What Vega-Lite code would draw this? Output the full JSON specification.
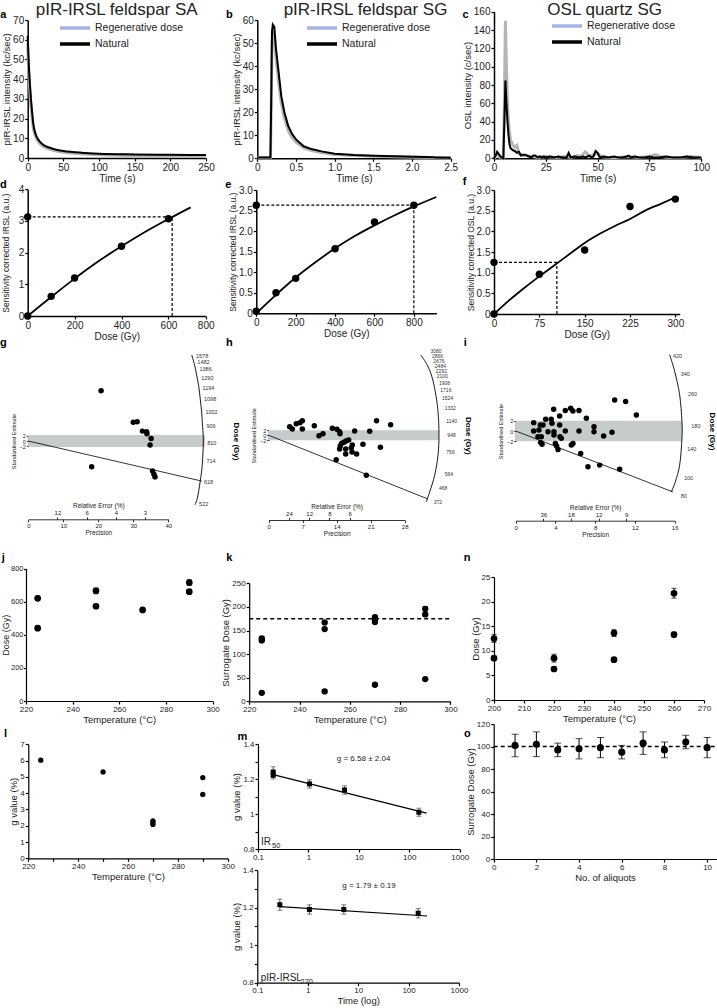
{
"$schema": "https://vega.github.io/schema/vega-lite/v6.json",
"width": 717, "height": 1008, "autosize": {"type": "none"}, "padding": 0, "background": "white",
"config": {
 "font": "Liberation Sans",
 "view": {"stroke": null},
 "axis": {"grid": false, "domainColor": "#000", "domainWidth": 1.5, "tickColor": "#000", "tickWidth": 1.2, "tickSize": 3, "labelColor": "#222", "labelFontSize": 10, "titleColor": "#222", "titleFontSize": 10.5, "titleFontWeight": "normal", "labelFlush": false, "labelOverlap": false, "minExtent": 0, "labelPadding": 1, "titlePadding": 1},
 "axisX": {"minExtent": 0}, "axisY": {"minExtent": 0},
 "text": {"color": "#222"}
},
"resolve": {"scale": {"x": "independent", "y": "independent", "color": "independent"}, "axis": {"x": "independent", "y": "independent"}},
"layer": [
 {"layer": [
  {"data": {"values": [{"x":0,"y":58},{"x":1,"y":48},{"x":2,"y":40},{"x":3,"y":34},{"x":4,"y":29},{"x":5,"y":25},{"x":6,"y":21},{"x":8,"y":15},{"x":10,"y":12},{"x":12,"y":10},{"x":15,"y":8.2},{"x":17,"y":7.3},{"x":20,"y":6.3},{"x":25,"y":5.2},{"x":30,"y":4.5},{"x":40,"y":3.5},{"x":50,"y":2.9},{"x":75,"y":2.1},{"x":100,"y":1.6},{"x":150,"y":1.2},{"x":200,"y":1.0},{"x":250,"y":0.9}]},
   "mark": {"type": "line", "color": "#b5b5b5", "strokeWidth": 3, "interpolate": "monotone"},
   "encoding": {
    "x": {"field": "x", "type": "quantitative", "scale": {"domain": [0, 250], "range": [27.7, 206], "nice": false, "zero": false}, "axis": null},
    "y": {"field": "y", "type": "quantitative", "scale": {"domain": [0, 70], "range": [158, 20], "nice": false, "zero": false}, "axis": null}}},
  {"data": {"values": [{"x":0,"y":62},{"x":1,"y":52},{"x":2,"y":44},{"x":3,"y":38},{"x":4,"y":33},{"x":5,"y":28},{"x":6,"y":24},{"x":8,"y":17},{"x":10,"y":13.5},{"x":12,"y":11.2},{"x":15,"y":9.3},{"x":17,"y":8.3},{"x":20,"y":7.2},{"x":25,"y":6},{"x":30,"y":5.3},{"x":40,"y":4.2},{"x":50,"y":3.6},{"x":75,"y":2.7},{"x":100,"y":2.2},{"x":150,"y":1.8},{"x":200,"y":1.6},{"x":250,"y":1.5}]},
   "mark": {"type": "line", "color": "#000", "strokeWidth": 2, "interpolate": "monotone"},
   "encoding": {"x": {"field": "x", "type": "quantitative", "axis": null}, "y": {"field": "y", "type": "quantitative", "axis": null}}},
  {"data": {"values": [{}]}, "mark": {"type": "text", "fontSize": 17},
   "encoding": {"x": {"datum": 124.8, "axis": null}, "y": {"datum": 75.1, "axis": null}, "text": {"value": "pIR-IRSL feldspar SA"}}},
  {"data": {"values": [{}]}, "mark": {"type": "text", "fontSize": 11, "fontWeight": "bold", "color": "#000"},
   "encoding": {"x": {"datum": -34.2, "axis": null}, "y": {"datum": 72.5, "axis": null}, "text": {"value": "a"}}}
 ]},
 {"data": {"values": [{}]}, "mark": {"type": "point", "opacity": 0},
  "encoding": {
   "x": {"datum": 0, "type": "quantitative", "scale": {"domain": [0, 250], "range": [27.7, 206], "nice": false, "zero": false}, "axis": {"orient": "bottom", "offset": -850, "values": [0,50,100,150,200,250], "title": "Time (s)", "titleFontSize": 10}},
   "y": {"datum": 0, "type": "quantitative", "scale": {"domain": [0, 70], "range": [158, 20], "nice": false, "zero": false}, "axis": {"orient": "left", "offset": -27.7, "values": [0,10,20,30,40,50,60,70], "title": "pIR-IRSL intensity (kc/sec)", "titleFontSize": 9.5}}}},
 {"data": {"values": [{"s":"Regenerative dose"},{"s":"Natural"}]}, "mark": {"type": "point", "opacity": 0},
  "encoding": {"color": {"field": "s", "type": "nominal", "scale": {"domain": ["Regenerative dose","Natural"], "range": ["#a3b3e6","#000000"]},
   "legend": {"orient": "none", "legendX": 68, "legendY": 21, "title": null, "symbolType": "M-3,0L3,0", "symbolSize": 100, "symbolStrokeWidth": 3.5, "labelFontSize": 10.5, "labelColor": "#222", "rowPadding": 2, "labelOffset": 13, "padding": 0}}}},
 {"layer": [
  {"data": {"values": [{"x":0,"y":0.4},{"x":0.17,"y":0.4},{"x":0.18,"y":22},{"x":0.19,"y":50},{"x":0.2,"y":55},{"x":0.22,"y":53},{"x":0.24,"y":44},{"x":0.27,"y":35},{"x":0.31,"y":24},{"x":0.35,"y":17.5},{"x":0.4,"y":12},{"x":0.45,"y":9},{"x":0.5,"y":7},{"x":0.6,"y":4.5},{"x":0.7,"y":3.4},{"x":0.83,"y":2.5},{"x":1.0,"y":1.7},{"x":1.25,"y":1.2},{"x":1.5,"y":0.9},{"x":1.9,"y":0.6},{"x":2.28,"y":0.4},{"x":2.3,"y":0.3},{"x":2.5,"y":0.2}]},
   "mark": {"type": "line", "color": "#b5b5b5", "strokeWidth": 3},
   "encoding": {
    "x": {"field": "x", "type": "quantitative", "scale": {"domain": [0, 2.5], "range": [257.3, 450.7], "nice": false, "zero": false}, "axis": null},
    "y": {"field": "y", "type": "quantitative", "scale": {"domain": [0, 60], "range": [158.3, 20], "nice": false, "zero": false}, "axis": null}}},
  {"data": {"values": [{"x":0,"y":0.4},{"x":0.17,"y":0.4},{"x":0.18,"y":25},{"x":0.19,"y":55},{"x":0.2,"y":58},{"x":0.22,"y":57},{"x":0.24,"y":48},{"x":0.27,"y":39},{"x":0.31,"y":27},{"x":0.35,"y":20},{"x":0.4,"y":14},{"x":0.45,"y":10.5},{"x":0.5,"y":8.2},{"x":0.6,"y":5.2},{"x":0.7,"y":4},{"x":0.83,"y":3},{"x":1.0,"y":2},{"x":1.25,"y":1.4},{"x":1.5,"y":1.1},{"x":1.9,"y":0.8},{"x":2.28,"y":0.5},{"x":2.3,"y":0.3},{"x":2.5,"y":0.2}]},
   "mark": {"type": "line", "color": "#000", "strokeWidth": 2},
   "encoding": {"x": {"field": "x", "type": "quantitative", "axis": null}, "y": {"field": "y", "type": "quantitative", "axis": null}}},
  {"data": {"values": [{}]}, "mark": {"type": "text", "fontSize": 17},
   "encoding": {"x": {"datum": 1.399, "axis": null}, "y": {"datum": 64.3, "axis": null}, "text": {"value": "pIR-IRSL feldspar SG"}}},
  {"data": {"values": [{}]}, "mark": {"type": "text", "fontSize": 11, "fontWeight": "bold", "color": "#000"},
   "encoding": {"x": {"datum": -0.362, "axis": null}, "y": {"datum": 62.2, "axis": null}, "text": {"value": "b"}}}
 ]},
 {"data": {"values": [{}]}, "mark": {"type": "point", "opacity": 0},
  "encoding": {
   "x": {"datum": 0, "type": "quantitative", "scale": {"domain": [0, 2.5], "range": [257.3, 450.7], "nice": false, "zero": false}, "axis": {"orient": "bottom", "offset": -849.7, "values": [0,0.5,1,1.5,2,2.5], "labelExpr": "datum.value == 0 ? '0' : format(datum.value, '.1f')", "title": "Time (s)", "titleFontSize": 10}},
   "y": {"datum": 0, "type": "quantitative", "scale": {"domain": [0, 60], "range": [158.3, 20], "nice": false, "zero": false}, "axis": {"orient": "left", "offset": -257.3, "values": [0,10,20,30,40,50,60], "title": "pIR-IRSL intensity (kc/sec)", "titleFontSize": 9.5}}}},
 {"data": {"values": [{"s":"Regenerative dose"},{"s":"Natural"}]}, "mark": {"type": "point", "opacity": 0},
  "encoding": {"color": {"field": "s", "type": "nominal", "scale": {"domain": ["Regenerative dose","Natural"], "range": ["#a3b3e6","#000000"]},
   "legend": {"orient": "none", "legendX": 315, "legendY": 21, "title": null, "symbolType": "M-3,0L3,0", "symbolSize": 100, "symbolStrokeWidth": 3.5, "labelFontSize": 10.5, "labelColor": "#222", "rowPadding": 2, "labelOffset": 13, "padding": 0}}}},
 {"layer": [
  {"data": {"values": [{"x":0,"y":0},{"x":1,"y":3},{"x":2,"y":4},{"x":3,"y":1},{"x":4.5,"y":0},{"x":5,"y":60},{"x":5.5,"y":150},{"x":6,"y":100},{"x":6.5,"y":60},{"x":7,"y":40},{"x":7.5,"y":28},{"x":8,"y":20},{"x":9,"y":15},{"x":10,"y":12},{"x":11,"y":14},{"x":12,"y":5},{"x":13,"y":4},{"x":14,"y":3},{"x":15,"y":3},{"x":17,"y":2},{"x":19,"y":2},{"x":21,"y":1},{"x":25,"y":2},{"x":30,"y":1},{"x":35,"y":2},{"x":37,"y":1},{"x":40,"y":3},{"x":42,"y":2},{"x":44,"y":7},{"x":45,"y":5},{"x":46,"y":2},{"x":48,"y":4},{"x":50,"y":5},{"x":52,"y":2},{"x":55,"y":1},{"x":60,"y":1},{"x":65,"y":2},{"x":70,"y":1},{"x":75,"y":2},{"x":78,"y":4},{"x":80,"y":2},{"x":85,"y":1},{"x":90,"y":1},{"x":95,"y":2},{"x":100,"y":1}]},
   "mark": {"type": "line", "color": "#b5b5b5", "strokeWidth": 3},
   "encoding": {
    "x": {"field": "x", "type": "quantitative", "scale": {"domain": [0, 100], "range": [494, 701.3], "nice": false, "zero": false}, "axis": null},
    "y": {"field": "y", "type": "quantitative", "scale": {"domain": [0, 160], "range": [158.3, 11.7], "nice": false, "zero": false}, "axis": null}}},
  {"data": {"values": [{"x":0,"y":0},{"x":1,"y":4},{"x":1.5,"y":7},{"x":2.5,"y":4},{"x":3.5,"y":1},{"x":4.5,"y":0},{"x":5,"y":40},{"x":5.5,"y":85},{"x":6,"y":60},{"x":6.5,"y":40},{"x":7,"y":25},{"x":7.5,"y":15},{"x":8,"y":11},{"x":9,"y":9},{"x":10,"y":8},{"x":11,"y":6},{"x":12,"y":7},{"x":13,"y":3},{"x":14,"y":4},{"x":15,"y":4},{"x":16,"y":3},{"x":17,"y":2},{"x":18,"y":1},{"x":19,"y":3},{"x":20,"y":3},{"x":21,"y":1},{"x":22,"y":2},{"x":23,"y":1},{"x":24,"y":2},{"x":25,"y":1},{"x":27,"y":2},{"x":29,"y":1},{"x":31,"y":2},{"x":33,"y":1},{"x":35,"y":1},{"x":36,"y":6},{"x":37,"y":1},{"x":39,"y":2},{"x":41,"y":1},{"x":43,"y":2},{"x":44,"y":1},{"x":45,"y":2},{"x":46,"y":3},{"x":47,"y":1},{"x":48,"y":2},{"x":49,"y":8},{"x":50,"y":6},{"x":51,"y":1},{"x":53,"y":2},{"x":55,"y":1},{"x":58,"y":2},{"x":60,"y":1},{"x":62,"y":1},{"x":64,"y":2},{"x":65,"y":3},{"x":66,"y":1},{"x":68,"y":2},{"x":70,"y":1},{"x":73,"y":1},{"x":75,"y":2},{"x":77,"y":1},{"x":80,"y":1},{"x":83,"y":2},{"x":86,"y":1},{"x":90,"y":1},{"x":93,"y":2},{"x":96,"y":1},{"x":100,"y":1}]},
   "mark": {"type": "line", "color": "#000", "strokeWidth": 2},
   "encoding": {"x": {"field": "x", "type": "quantitative", "axis": null}, "y": {"field": "y", "type": "quantitative", "axis": null}}},
  {"data": {"values": [{}]}, "mark": {"type": "text", "fontSize": 17},
   "encoding": {"x": {"datum": 53.4, "axis": null}, "y": {"datum": 161.8, "axis": null}, "text": {"value": "OSL quartz SG"}}},
  {"data": {"values": [{}]}, "mark": {"type": "text", "fontSize": 11, "fontWeight": "bold", "color": "#000"},
   "encoding": {"x": {"datum": -13.7, "axis": null}, "y": {"datum": 156.4, "axis": null}, "text": {"value": "c"}}}
 ]},
 {"data": {"values": [{}]}, "mark": {"type": "point", "opacity": 0},
  "encoding": {
   "x": {"datum": 0, "type": "quantitative", "scale": {"domain": [0, 100], "range": [494, 701.3], "nice": false, "zero": false}, "axis": {"orient": "bottom", "offset": -849.7, "values": [0,25,50,75,100], "title": "Time (s)", "titleFontSize": 10}},
   "y": {"datum": 0, "type": "quantitative", "scale": {"domain": [0, 160], "range": [158.3, 11.7], "nice": false, "zero": false}, "axis": {"orient": "left", "offset": -494, "values": [0,20,40,60,80,100,120,140,160], "title": "OSL intensity (c/sec)", "titleFontSize": 9.5}}}},
 {"data": {"values": [{"s":"Regenerative dose"},{"s":"Natural"}]}, "mark": {"type": "point", "opacity": 0},
  "encoding": {"color": {"field": "s", "type": "nominal", "scale": {"domain": ["Regenerative dose","Natural"], "range": ["#a3b3e6","#000000"]},
   "legend": {"orient": "none", "legendX": 560, "legendY": 19, "title": null, "symbolType": "M-3,0L3,0", "symbolSize": 100, "symbolStrokeWidth": 3.5, "labelFontSize": 10.5, "labelColor": "#222", "rowPadding": 2, "labelOffset": 13, "padding": 0}}}},
 {"layer": [
  {"data": {"values": [{}]}, "mark": {"type": "rule", "strokeDash": [3,2], "strokeWidth": 1.2, "color": "#000"},
   "encoding": {"x": {"datum": 0, "axis": null}, "x2": {"datum": 616}, "y": {"datum": 3.13, "axis": null}}},
  {"data": {"values": [{}]}, "mark": {"type": "rule", "strokeDash": [3,2], "strokeWidth": 1.2, "color": "#000"},
   "encoding": {"x": {"datum": 616, "axis": null}, "y": {"datum": 0, "axis": null}, "y2": {"datum": 3.13}}},
  {"data": {"values": [{"x":0,"y":0},{"x":100,"y":0.6},{"x":200,"y":1.18},{"x":300,"y":1.72},{"x":400,"y":2.2},{"x":500,"y":2.65},{"x":600,"y":3.06},{"x":695,"y":3.43}]},
   "mark": {"type": "line", "color": "#000", "strokeWidth": 1.8, "interpolate": "monotone"},
   "encoding": {"x": {"field": "x", "type": "quantitative", "axis": null}, "y": {"field": "y", "type": "quantitative", "axis": null}}},
  {"data": {"values": [{"x":0,"y":0},{"x":100,"y":0.62},{"x":200,"y":1.2},{"x":400,"y":2.2},{"x":600,"y":3.07},{"x":0,"y":3.13}]},
   "mark": {"type": "circle", "color": "#000", "size": 55, "opacity": 1},
   "encoding": {
    "x": {"field": "x", "type": "quantitative", "scale": {"domain": [0, 759], "range": [27.7, 205.7], "nice": false, "zero": false}, "axis": null},
    "y": {"field": "y", "type": "quantitative", "scale": {"domain": [0, 4], "range": [316, 189.3], "nice": false, "zero": false}, "axis": null}}},
  {"data": {"values": [{}]}, "mark": {"type": "text", "fontSize": 11, "fontWeight": "bold", "color": "#000"},
   "encoding": {"x": {"datum": -104, "axis": null}, "y": {"datum": 4.14, "axis": null}, "text": {"value": "d"}}}
 ]},
 {"data": {"values": [{}]}, "mark": {"type": "point", "opacity": 0},
  "encoding": {
   "x": {"datum": 0, "type": "quantitative", "scale": {"domain": [0, 759], "range": [27.7, 205.7], "nice": false, "zero": false}, "axis": {"orient": "bottom", "offset": -692, "values": [0,200,400,600,759], "labelExpr": "datum.value > 700 ? '800' : datum.label", "title": "Dose (Gy)", "titleFontSize": 10}},
   "y": {"datum": 0, "type": "quantitative", "scale": {"domain": [0, 4], "range": [316, 189.3], "nice": false, "zero": false}, "axis": {"orient": "left", "offset": -27.7, "values": [0,1,2,3,4], "title": "Sensitivity corrected IRSL (a.u.)", "titleFontSize": 8.5, "titlePadding": 8}}}},
 {"layer": [
  {"data": {"values": [{}]}, "mark": {"type": "rule", "strokeDash": [3,2], "strokeWidth": 1.2, "color": "#000"},
   "encoding": {"x": {"datum": 0, "axis": null}, "x2": {"datum": 800}, "y": {"datum": 2.63, "axis": null}}},
  {"data": {"values": [{}]}, "mark": {"type": "rule", "strokeDash": [3,2], "strokeWidth": 1.2, "color": "#000"},
   "encoding": {"x": {"datum": 800, "axis": null}, "y": {"datum": 0, "axis": null}, "y2": {"datum": 2.63}}},
  {"data": {"values": [{"x":0,"y":0},{"x":100,"y":0.45},{"x":200,"y":0.87},{"x":300,"y":1.24},{"x":400,"y":1.58},{"x":500,"y":1.88},{"x":600,"y":2.14},{"x":700,"y":2.38},{"x":800,"y":2.6},{"x":914,"y":2.83}]},
   "mark": {"type": "line", "color": "#000", "strokeWidth": 1.8, "interpolate": "monotone"},
   "encoding": {"x": {"field": "x", "type": "quantitative", "axis": null}, "y": {"field": "y", "type": "quantitative", "axis": null}}},
  {"data": {"values": [{"x":0,"y":0.05},{"x":100,"y":0.5},{"x":200,"y":0.85},{"x":400,"y":1.57},{"x":600,"y":2.22},{"x":800,"y":2.63},{"x":0,"y":2.63}]},
   "mark": {"type": "circle", "color": "#000", "size": 55, "opacity": 1},
   "encoding": {
    "x": {"field": "x", "type": "quantitative", "scale": {"domain": [0, 914], "range": [256.3, 436.3], "nice": false, "zero": false}, "axis": null},
    "y": {"field": "y", "type": "quantitative", "scale": {"domain": [0, 3], "range": [313.3, 190], "nice": false, "zero": false}, "axis": null}}},
  {"data": {"values": [{}]}, "mark": {"type": "text", "fontSize": 11, "fontWeight": "bold", "color": "#000"},
   "encoding": {"x": {"datum": -142, "axis": null}, "y": {"datum": 3.12, "axis": null}, "text": {"value": "e"}}}
 ]},
 {"data": {"values": [{}]}, "mark": {"type": "point", "opacity": 0},
  "encoding": {
   "x": {"datum": 0, "type": "quantitative", "scale": {"domain": [0, 914], "range": [256.3, 436.3], "nice": false, "zero": false}, "axis": {"orient": "bottom", "offset": -694.7, "values": [0,200,400,600,800], "title": "Dose (Gy)", "titleFontSize": 10}},
   "y": {"datum": 0, "type": "quantitative", "scale": {"domain": [0, 3], "range": [313.3, 190], "nice": false, "zero": false}, "axis": {"orient": "left", "offset": -256.3, "values": [0,0.5,1,1.5,2,2.5,3], "labelExpr": "datum.value == 0 ? '0' : format(datum.value, '.1f')", "title": "Sensitivity corrected IRSL (a.u.)", "titleFontSize": 8.5}}}},
 {"layer": [
  {"data": {"values": [{}]}, "mark": {"type": "rule", "strokeDash": [3,2], "strokeWidth": 1.2, "color": "#000"},
   "encoding": {"x": {"datum": 0, "axis": null}, "x2": {"datum": 104}, "y": {"datum": 1.25, "axis": null}}},
  {"data": {"values": [{}]}, "mark": {"type": "rule", "strokeDash": [3,2], "strokeWidth": 1.2, "color": "#000"},
   "encoding": {"x": {"datum": 104, "axis": null}, "y": {"datum": 0, "axis": null}, "y2": {"datum": 1.25}}},
  {"data": {"values": [{"x":0,"y":0},{"x":25,"y":0.33},{"x":50,"y":0.63},{"x":75,"y":0.91},{"x":100,"y":1.18},{"x":125,"y":1.45},{"x":150,"y":1.72},{"x":175,"y":1.94},{"x":200,"y":2.13},{"x":225,"y":2.3},{"x":250,"y":2.5},{"x":275,"y":2.66},{"x":300,"y":2.82}]},
   "mark": {"type": "line", "color": "#000", "strokeWidth": 1.8, "interpolate": "monotone"},
   "encoding": {"x": {"field": "x", "type": "quantitative", "axis": null}, "y": {"field": "y", "type": "quantitative", "axis": null}}},
  {"data": {"values": [{"x":0,"y":0},{"x":75,"y":0.96},{"x":150,"y":1.55},{"x":225,"y":2.6},{"x":300,"y":2.78},{"x":0,"y":1.25}]},
   "mark": {"type": "circle", "color": "#000", "size": 55, "opacity": 1},
   "encoding": {
    "x": {"field": "x", "type": "quantitative", "scale": {"domain": [0, 307.2], "range": [494, 679.7], "nice": false, "zero": false}, "axis": null},
    "y": {"field": "y", "type": "quantitative", "scale": {"domain": [0, 3], "range": [314, 190], "nice": false, "zero": false}, "axis": null}}},
  {"data": {"values": [{}]}, "mark": {"type": "text", "fontSize": 11, "fontWeight": "bold", "color": "#000"},
   "encoding": {"x": {"datum": -48.5, "axis": null}, "y": {"datum": 3.2, "axis": null}, "text": {"value": "f"}}}
 ]},
 {"data": {"values": [{}]}, "mark": {"type": "point", "opacity": 0},
  "encoding": {
   "x": {"datum": 0, "type": "quantitative", "scale": {"domain": [0, 307.2], "range": [494, 679.7], "nice": false, "zero": false}, "axis": {"orient": "bottom", "offset": -694, "values": [0,75,150,225,300], "title": "Dose (Gy)", "titleFontSize": 10}},
   "y": {"datum": 0, "type": "quantitative", "scale": {"domain": [0, 3], "range": [314, 190], "nice": false, "zero": false}, "axis": {"orient": "left", "offset": -494, "values": [0,0.5,1,1.5,2,2.5,3], "labelExpr": "datum.value == 0 ? '0' : format(datum.value, '.1f')", "title": "Sensitivity corrected OSL (a.u.)", "titleFontSize": 8.5}}}},
 {"layer": [
  {"data": {"values": [{}]}, "mark": {"type": "rect", "color": "#c5cccb"},
   "encoding": {"x": {"datum": 0, "axis": null}, "x2": {"datum": 50.5}, "y": {"datum": -2.3, "axis": null}, "y2": {"datum": 2.3}}},
  {"data": {"values": [{}]}, "mark": {"type": "rule", "color": "#000", "strokeWidth": 0.8},
   "encoding": {"x": {"datum": 0, "axis": null}, "y": {"datum": 0, "axis": null}, "x2": {"datum": 49.5}, "y2": {"datum": -15.4}}},
  {"data": {"values": [{"i":1,"x":46.7,"y":33.1},{"i":2,"x":47.5,"y":29.3},{"i":3,"x":48.1,"y":25.4},{"i":4,"x":48.7,"y":21},{"i":5,"x":49.1,"y":16.5},{"i":6,"x":49.5,"y":11.5},{"i":7,"x":49.7,"y":7.4},{"i":8,"x":50,"y":0},{"i":9,"x":49.7,"y":-9.2},{"i":10,"x":49.1,"y":-15.7},{"i":11,"x":48.3,"y":-22},{"i":12,"x":47.6,"y":-24.5}]},
   "mark": {"type": "line", "color": "#000", "strokeWidth": 0.9, "interpolate": "cardinal"},
   "encoding": {"x": {"field": "x", "type": "quantitative", "axis": null}, "y": {"field": "y", "type": "quantitative", "axis": null}, "order": {"field": "i", "type": "quantitative"}}},
  {"data": {"values": [{"lab":"1578","x":47.9,"y":32.8},{"lab":"1482","x":48.3,"y":30.5},{"lab":"1386","x":48.9,"y":27.6},{"lab":"1290","x":49.4,"y":24.1},{"lab":"1194","x":49.8,"y":20.5},{"lab":"1098","x":50.2,"y":16.2},{"lab":"1002","x":50.6,"y":11.0},{"lab":"906","x":50.9,"y":5.7},{"lab":"810","x":51.1,"y":-0.7},{"lab":"714","x":50.9,"y":-7.7},{"lab":"618","x":50.2,"y":-15.7},{"lab":"522","x":48.8,"y":-24.3}]},
   "mark": {"type": "text", "fontSize": 5.5, "align": "left", "color": "#333"},
   "encoding": {"x": {"field": "x", "type": "quantitative", "axis": null}, "y": {"field": "y", "type": "quantitative", "axis": null}, "text": {"field": "lab"}}},
  {"data": {"values": [{"x":20.8,"y":19.3},{"x":30.0,"y":7.2},{"x":31.1,"y":7.4},{"x":32.6,"y":3.8},{"x":33.8,"y":3.6},{"x":33.9,"y":2.8},{"x":35.1,"y":1.0},{"x":34.8,"y":-1.5},{"x":18.1,"y":-9.9},{"x":35.5,"y":-11.5},{"x":35.9,"y":-12.8},{"x":36.2,"y":-13.8}]},
   "mark": {"type": "circle", "color": "#000", "size": 30, "opacity": 1},
   "encoding": {
    "x": {"field": "x", "type": "quantitative", "scale": {"domain": [0, 40], "range": [28.3, 168.3], "nice": false, "zero": false}, "axis": null},
    "y": {"field": "y", "type": "quantitative", "scale": {"domain": [-2, 2], "range": [446.2, 435.8], "nice": false, "zero": false}, "axis": null}}},
  {"data": {"values": [{}]}, "mark": {"type": "text", "fontSize": 11, "fontWeight": "bold", "color": "#000"},
   "encoding": {"x": {"datum": -7.14, "axis": null}, "y": {"datum": 37.6, "axis": null}, "text": {"value": "g"}}}
 ]},
 {"data": {"values": [{}]}, "mark": {"type": "point", "opacity": 0},
  "encoding": {
   "x": {"datum": 0, "type": "quantitative", "scale": {"domain": [0, 40], "range": [28.3, 168.3], "nice": false, "zero": false}, "axis": {"orient": "bottom", "offset": -488.7, "values": [0,10,20,30,40], "title": "Precision", "labelFontSize": 6, "titleFontSize": 6.5, "tickSize": 2.5, "domainWidth": 0.8, "tickWidth": 0.8}},
   "y": {"datum": 0, "type": "quantitative", "scale": {"domain": [-2, 2], "range": [446.2, 435.8], "nice": false, "zero": false}, "axis": {"orient": "left", "offset": -28.3, "values": [-2,0,2], "title": "Standardised Estimate", "labelFontSize": 5.5, "titleFontSize": 5.5, "tickSize": 2, "domainWidth": 0.8, "tickWidth": 0.8, "titlePadding": 3}}}},
 {"data": {"values": [{}]}, "mark": {"type": "point", "opacity": 0},
  "encoding": {
   "x": {"datum": 0, "type": "quantitative", "scale": {"domain": [0, 40], "range": [28.3, 168.3], "nice": false, "zero": false}, "axis": {"orient": "top", "offset": -519.3, "values": [8.3333,16.6667,25,33.3333], "labelExpr": "'' + round(100/datum.value)", "title": "Relative Error (%)", "domain": false, "labelFontSize": 6, "titleFontSize": 6.5, "tickSize": 2.5, "tickWidth": 0.8}},
   "y": {"datum": 0, "type": "quantitative", "scale": {"domain": [-2, 2], "range": [446.2, 435.8], "nice": false, "zero": false}, "axis": {"orient": "right", "offset": -486, "domain": false, "ticks": false, "labels": false, "title": "Dose (Gy)", "titleFontSize": 8, "titleFontWeight": "bold", "titleColor": "#000", "titlePadding": 0}}}},
 {"layer": [
  {"data": {"values": [{}]}, "mark": {"type": "rect", "color": "#c5cccb"},
   "encoding": {"x": {"datum": 0, "axis": null}, "x2": {"datum": 35.06}, "y": {"datum": -2, "axis": null}, "y2": {"datum": 2}}},
  {"data": {"values": [{}]}, "mark": {"type": "rule", "color": "#000", "strokeWidth": 0.8},
   "encoding": {"x": {"datum": 0, "axis": null}, "y": {"datum": 0, "axis": null}, "x2": {"datum": 32.8}, "y2": {"datum": -25.5}}},
  {"data": {"values": [{"i":1,"x":31.3,"y":32.1},{"i":2,"x":32.45,"y":28.8},{"i":3,"x":33.5,"y":24.1},{"i":4,"x":34.3,"y":17.4},{"i":5,"x":34.86,"y":9.44},{"i":6,"x":35.06,"y":0.12},{"i":7,"x":34.86,"y":-7.9},{"i":8,"x":34.18,"y":-15.9},{"i":9,"x":33.15,"y":-22.6},{"i":10,"x":32.45,"y":-26.6}]},
   "mark": {"type": "line", "color": "#000", "strokeWidth": 0.9, "interpolate": "cardinal"},
   "encoding": {"x": {"field": "x", "type": "quantitative", "axis": null}, "y": {"field": "y", "type": "quantitative", "axis": null}, "order": {"field": "i", "type": "quantitative"}}},
  {"data": {"values": [{"lab":"3080","x":33.3,"y":33.7},{"lab":"2866","x":33.6,"y":31.7},{"lab":"2676","x":33.9,"y":29.7},{"lab":"2484","x":34.2,"y":27.7},{"lab":"2292","x":34.4,"y":25.7},{"lab":"2100","x":34.6,"y":23.7},{"lab":"1908","x":35.06,"y":20.8},{"lab":"1716","x":35.33,"y":18.1},{"lab":"1524","x":35.68,"y":14.8},{"lab":"1332","x":36.24,"y":10.8},{"lab":"1140","x":36.57,"y":5.84},{"lab":"948","x":36.78,"y":0},{"lab":"756","x":36.57,"y":-6.68},{"lab":"564","x":36.24,"y":-15.5},{"lab":"468","x":35.06,"y":-21.0},{"lab":"372","x":33.97,"y":-26.7}]},
   "mark": {"type": "text", "fontSize": 5, "align": "left", "color": "#333"},
   "encoding": {"x": {"field": "x", "type": "quantitative", "axis": null}, "y": {"field": "y", "type": "quantitative", "axis": null}, "text": {"field": "lab"}}},
  {"data": {"values": [{"x":4.32,"y":3.44},{"x":4.86,"y":2.52},{"x":5.68,"y":4.64},{"x":6.44,"y":5.04},{"x":6.92,"y":5.84},{"x":6.92,"y":2.52},{"x":9.39,"y":3.84},{"x":10.36,"y":-0.16},{"x":11.18,"y":0.64},{"x":13.1,"y":2.8},{"x":14.06,"y":2.4},{"x":14.6,"y":1.44},{"x":14.68,"y":0.64},{"x":17.7,"y":1.72},{"x":20.8,"y":1.6},{"x":22.2,"y":5.84},{"x":25.1,"y":4.24},{"x":14.6,"y":-5.48},{"x":14.74,"y":-4.16},{"x":15.03,"y":-3.2},{"x":15.5,"y":-2.8},{"x":15.9,"y":-2.28},{"x":16.47,"y":-1.88},{"x":15.85,"y":-5.48},{"x":17.0,"y":-4.96},{"x":17.22,"y":-3.88},{"x":17.15,"y":-6.68},{"x":15.85,"y":-7.48},{"x":18.1,"y":-7.48},{"x":19.4,"y":-3.6},{"x":23.0,"y":-4.8},{"x":13.9,"y":-9.76},{"x":20.1,"y":-16}]},
   "mark": {"type": "circle", "color": "#000", "size": 30, "opacity": 1},
   "encoding": {
    "x": {"field": "x", "type": "quantitative", "scale": {"domain": [0, 28], "range": [268.7, 404.7], "nice": false, "zero": false}, "axis": null},
    "y": {"field": "y", "type": "quantitative", "scale": {"domain": [-2, 2], "range": [440.3, 430.3], "nice": false, "zero": false}, "axis": null}}},
  {"data": {"values": [{}]}, "mark": {"type": "text", "fontSize": 11, "fontWeight": "bold", "color": "#000"},
   "encoding": {"x": {"datum": -8.1, "axis": null}, "y": {"datum": 36.8, "axis": null}, "text": {"value": "h"}}}
 ]},
 {"data": {"values": [{}]}, "mark": {"type": "point", "opacity": 0},
  "encoding": {
   "x": {"datum": 0, "type": "quantitative", "scale": {"domain": [0, 28], "range": [268.7, 404.7], "nice": false, "zero": false}, "axis": {"orient": "bottom", "offset": -488, "values": [0,7,14,21,28], "title": "Precision", "labelFontSize": 6, "titleFontSize": 6.5, "tickSize": 2.5, "domainWidth": 0.8, "tickWidth": 0.8}},
   "y": {"datum": 0, "type": "quantitative", "scale": {"domain": [-2, 2], "range": [440.3, 430.3], "nice": false, "zero": false}, "axis": {"orient": "left", "offset": -268.7, "values": [-2,0,2], "title": "Standardised Estimate", "labelFontSize": 5.5, "titleFontSize": 5.5, "tickSize": 2, "domainWidth": 0.8, "tickWidth": 0.8, "titlePadding": 3}}}},
 {"data": {"values": [{}]}, "mark": {"type": "point", "opacity": 0},
  "encoding": {
   "x": {"datum": 0, "type": "quantitative", "scale": {"domain": [0, 28], "range": [268.7, 404.7], "nice": false, "zero": false}, "axis": {"orient": "top", "offset": -520, "values": [4.1667,8.3333,12.5,16.6667], "labelExpr": "'' + round(100/datum.value)", "title": "Relative Error (%)", "domain": false, "labelFontSize": 6, "titleFontSize": 6.5, "tickSize": 2.5, "tickWidth": 0.8}},
   "y": {"datum": 0, "type": "quantitative", "scale": {"domain": [-2, 2], "range": [440.3, 430.3], "nice": false, "zero": false}, "axis": {"orient": "right", "offset": -253.5, "domain": false, "ticks": false, "labels": false, "title": "Dose (Gy)", "titleFontSize": 8, "titleFontWeight": "bold", "titleColor": "#000", "titlePadding": 0}}}},
 {"layer": [
  {"data": {"values": [{}]}, "mark": {"type": "rect", "color": "#c5cccb"},
   "encoding": {"x": {"datum": 0, "axis": null}, "x2": {"datum": 16.73}, "y": {"datum": -2, "axis": null}, "y2": {"datum": 2}}},
  {"data": {"values": [{}]}, "mark": {"type": "rule", "color": "#000", "strokeWidth": 0.8},
   "encoding": {"x": {"datum": 0, "axis": null}, "y": {"datum": 0, "axis": null}, "x2": {"datum": 15.82}, "y2": {"datum": -11.95}}},
  {"data": {"values": [{"i":1,"x":15.49,"y":14.96},{"i":2,"x":16.0,"y":11.67},{"i":3,"x":16.5,"y":7.09},{"i":4,"x":16.73,"y":1.83},{"i":5,"x":16.73,"y":-1.44},{"i":6,"x":16.5,"y":-6.69},{"i":7,"x":16.06,"y":-9.98},{"i":8,"x":15.65,"y":-11.95}]},
   "mark": {"type": "line", "color": "#000", "strokeWidth": 0.9, "interpolate": "cardinal"},
   "encoding": {"x": {"field": "x", "type": "quantitative", "axis": null}, "y": {"field": "y", "type": "quantitative", "axis": null}, "order": {"field": "i", "type": "quantitative"}}},
  {"data": {"values": [{"lab":"420","x":15.82,"y":14.76},{"lab":"340","x":16.6,"y":11.2},{"lab":"260","x":17.33,"y":7.22},{"lab":"180","x":17.67,"y":0.98},{"lab":"140","x":17.26,"y":-3.54},{"lab":"100","x":16.93,"y":-9.31},{"lab":"80","x":16.6,"y":-12.74}]},
   "mark": {"type": "text", "fontSize": 5.5, "align": "left", "color": "#333"},
   "encoding": {"x": {"field": "x", "type": "quantitative", "axis": null}, "y": {"field": "y", "type": "quantitative", "axis": null}, "text": {"field": "lab"}}},
  {"data": {"values": [{"x":1.81,"y":1.64},{"x":1.81,"y":0},{"x":2.34,"y":0.2},{"x":2.24,"y":-1.12},{"x":2.48,"y":1.18},{"x":2.58,"y":-1.12},{"x":2.51,"y":-2.23},{"x":2.75,"y":1.18},{"x":2.65,"y":-2.62},{"x":3.02,"y":2.3},{"x":3.25,"y":-0.13},{"x":3.58,"y":2.3},{"x":3.65,"y":1.51},{"x":3.82,"y":4.27},{"x":3.85,"y":-0.13},{"x":3.85,"y":-0.79},{"x":3.99,"y":-2.43},{"x":4.12,"y":-2.95},{"x":4.26,"y":-3.61},{"x":4.42,"y":1.18},{"x":4.42,"y":2.95},{"x":4.46,"y":-1.12},{"x":4.59,"y":-1.44},{"x":4.99,"y":0},{"x":4.99,"y":4.0},{"x":5.53,"y":4.46},{"x":5.76,"y":3.94},{"x":5.6,"y":-2.76},{"x":5.76,"y":-2.43},{"x":6.37,"y":4.0},{"x":6.37,"y":0},{"x":6.54,"y":-4.4},{"x":7.11,"y":2.49},{"x":7.27,"y":-7.02},{"x":7.88,"y":0.85},{"x":7.88,"y":-0.13},{"x":8.45,"y":-6.69},{"x":8.85,"y":-0.98},{"x":9.69,"y":-0.26},{"x":9.96,"y":6.1},{"x":10.46,"y":-7.48},{"x":11.06,"y":5.77},{"x":12.14,"y":3.15}]},
   "mark": {"type": "circle", "color": "#000", "size": 30, "opacity": 1},
   "encoding": {
    "x": {"field": "x", "type": "quantitative", "scale": {"domain": [0, 16], "range": [515.7, 674.7], "nice": false, "zero": false}, "axis": null},
    "y": {"field": "y", "type": "quantitative", "scale": {"domain": [-2, 2], "range": [441.2, 420.8], "nice": false, "zero": false}, "axis": null}}},
  {"data": {"values": [{}]}, "mark": {"type": "text", "fontSize": 11, "fontWeight": "bold", "color": "#000"},
   "encoding": {"x": {"datum": -5.07, "axis": null}, "y": {"datum": 17.3, "axis": null}, "text": {"value": "i"}}}
 ]},
 {"data": {"values": [{}]}, "mark": {"type": "point", "opacity": 0},
  "encoding": {
   "x": {"datum": 0, "type": "quantitative", "scale": {"domain": [0, 16], "range": [515.7, 674.7], "nice": false, "zero": false}, "axis": {"orient": "bottom", "offset": -487.3, "values": [0,4,8,12,16], "title": "Precision", "labelFontSize": 6, "titleFontSize": 6.5, "tickSize": 2.5, "domainWidth": 0.8, "tickWidth": 0.8}},
   "y": {"datum": 0, "type": "quantitative", "scale": {"domain": [-2, 2], "range": [441.2, 420.8], "nice": false, "zero": false}, "axis": {"orient": "left", "offset": -515.7, "values": [-2,0,2], "title": "Standardised Estimate", "labelFontSize": 5.5, "titleFontSize": 5.5, "tickSize": 2, "domainWidth": 0.8, "tickWidth": 0.8, "titlePadding": 3}}}},
 {"data": {"values": [{}]}, "mark": {"type": "point", "opacity": 0},
  "encoding": {
   "x": {"datum": 0, "type": "quantitative", "scale": {"domain": [0, 16], "range": [515.7, 674.7], "nice": false, "zero": false}, "axis": {"orient": "top", "offset": -520.7, "values": [2.7778,5.5556,8.3333,11.1111], "labelExpr": "'' + round(100/datum.value)", "title": "Relative Error (%)", "domain": false, "labelFontSize": 6, "titleFontSize": 6.5, "tickSize": 2.5, "tickWidth": 0.8}},
   "y": {"datum": 0, "type": "quantitative", "scale": {"domain": [-2, 2], "range": [441.2, 420.8], "nice": false, "zero": false}, "axis": {"orient": "right", "offset": -10, "domain": false, "ticks": false, "labels": false, "title": "Dose (Gy)", "titleFontSize": 8, "titleFontWeight": "bold", "titleColor": "#000", "titlePadding": 0}}}},
 {"data": {"values": [{"x":225,"y":620,"lo":608,"hi":632},{"x":225,"y":440,"lo":434,"hi":446},{"x":250,"y":665,"lo":648,"hi":682},{"x":250,"y":572,"lo":562,"hi":582},{"x":270,"y":550,"lo":543,"hi":557},{"x":290,"y":715,"lo":698,"hi":732},{"x":290,"y":660,"lo":648,"hi":672}]},
  "layer": [
  {"mark": {"type": "rule", "color": "#000", "strokeWidth": 1},
   "encoding": {"x": {"field": "x", "type": "quantitative", "axis": null}, "y": {"field": "lo", "type": "quantitative", "axis": null}, "y2": {"field": "hi"}}},
  {"mark": {"type": "tick", "orient": "horizontal", "size": 5, "thickness": 1, "color": "#000"},
   "encoding": {"x": {"field": "x", "type": "quantitative", "axis": null}, "y": {"field": "lo", "type": "quantitative", "axis": null}}},
  {"mark": {"type": "tick", "orient": "horizontal", "size": 5, "thickness": 1, "color": "#000"},
   "encoding": {"x": {"field": "x", "type": "quantitative", "axis": null}, "y": {"field": "hi", "type": "quantitative", "axis": null}}},
  {"mark": {"type": "circle", "color": "#000", "size": 45, "opacity": 1},
   "encoding": {
    "x": {"field": "x", "type": "quantitative", "scale": {"domain": [220, 300], "range": [26, 212.6], "nice": false, "zero": false}, "axis": null},
    "y": {"field": "y", "type": "quantitative", "scale": {"domain": [0, 800], "range": [701, 568.5], "nice": false, "zero": false}, "axis": null}}},
  {"data": {"values": [{}]}, "mark": {"type": "text", "fontSize": 11, "fontWeight": "bold", "color": "#000"},
   "encoding": {"x": {"datum": 210.3, "axis": null}, "y": {"datum": 863.5, "axis": null}, "text": {"value": "j"}}}
 ]},
 {"data": {"values": [{}]}, "mark": {"type": "point", "opacity": 0},
  "encoding": {
   "x": {"datum": 220, "type": "quantitative", "scale": {"domain": [220, 300], "range": [26, 212.6], "nice": false, "zero": false}, "axis": {"orient": "bottom", "offset": -307, "values": [220,240,260,280,300], "title": "Temperature (°C)", "labelFontSize": 8, "titleFontSize": 9.5, "domainWidth": 1.2}},
   "y": {"datum": 0, "type": "quantitative", "scale": {"domain": [0, 800], "range": [701, 568.5], "nice": false, "zero": false}, "axis": {"orient": "left", "offset": -26, "values": [0,200,400,600,800], "title": "Dose (Gy)", "labelFontSize": 7.5, "titleFontSize": 9, "titlePadding": 0, "labelPadding": 0.5, "tickSize": 2.5, "domainWidth": 1.2}}}},
 {"data": {"values": [{"x":225,"y":133,"lo":129,"hi":137},{"x":225,"y":129,"lo":126,"hi":132},{"x":225,"y":18,"lo":16,"hi":20},{"x":250,"y":167,"lo":164,"hi":170},{"x":250,"y":153,"lo":150,"hi":156},{"x":250,"y":21,"lo":19,"hi":23},{"x":270,"y":178,"lo":174,"hi":182},{"x":270,"y":173,"lo":170,"hi":176},{"x":270,"y":168,"lo":165,"hi":171},{"x":270,"y":35,"lo":33,"hi":37},{"x":290,"y":196,"lo":191,"hi":201},{"x":290,"y":184,"lo":180,"hi":188},{"x":290,"y":47,"lo":45,"hi":49}]},
  "layer": [
  {"data": {"values": [{}]}, "mark": {"type": "rule", "strokeDash": [4,3], "strokeWidth": 1.5, "color": "#000"},
   "encoding": {"x": {"datum": 220, "axis": null}, "x2": {"datum": 300}, "y": {"datum": 175, "axis": null}}},
  {"mark": {"type": "rule", "color": "#000", "strokeWidth": 1},
   "encoding": {"x": {"field": "x", "type": "quantitative", "axis": null}, "y": {"field": "lo", "type": "quantitative", "axis": null}, "y2": {"field": "hi"}}},
  {"mark": {"type": "tick", "orient": "horizontal", "size": 5, "thickness": 1, "color": "#000"},
   "encoding": {"x": {"field": "x", "type": "quantitative", "axis": null}, "y": {"field": "lo", "type": "quantitative", "axis": null}}},
  {"mark": {"type": "tick", "orient": "horizontal", "size": 5, "thickness": 1, "color": "#000"},
   "encoding": {"x": {"field": "x", "type": "quantitative", "axis": null}, "y": {"field": "hi", "type": "quantitative", "axis": null}}},
  {"mark": {"type": "circle", "color": "#000", "size": 40, "opacity": 1},
   "encoding": {
    "x": {"field": "x", "type": "quantitative", "scale": {"domain": [220, 300], "range": [249.2, 450.4], "nice": false, "zero": false}, "axis": null},
    "y": {"field": "y", "type": "quantitative", "scale": {"domain": [0, 250], "range": [701.3, 583.3], "nice": false, "zero": false}, "axis": null}}},
  {"data": {"values": [{}]}, "mark": {"type": "text", "fontSize": 11, "fontWeight": "bold", "color": "#000"},
   "encoding": {"x": {"datum": 212.1, "axis": null}, "y": {"datum": 303.6, "axis": null}, "text": {"value": "k"}}}
 ]},
 {"data": {"values": [{}]}, "mark": {"type": "point", "opacity": 0},
  "encoding": {
   "x": {"datum": 220, "type": "quantitative", "scale": {"domain": [220, 300], "range": [249.2, 450.4], "nice": false, "zero": false}, "axis": {"orient": "bottom", "offset": -306.7, "values": [220,240,260,280,300], "title": "Temperature (°C)", "labelFontSize": 8, "titleFontSize": 9.5, "domainWidth": 1.2}},
   "y": {"datum": 0, "type": "quantitative", "scale": {"domain": [0, 250], "range": [701.3, 583.3], "nice": false, "zero": false}, "axis": {"orient": "left", "offset": -249.2, "values": [0,50,100,150,200,250], "title": "Surrogate Dose (Gy)", "labelFontSize": 8, "titleFontSize": 9.5, "domainWidth": 1.2}}}},
 {"data": {"values": [{"x":200,"y":12.5,"lo":11.7,"hi":13.3},{"x":200,"y":8.5,"lo":8.1,"hi":8.9},{"x":220,"y":8.5,"lo":7.7,"hi":9.3},{"x":220,"y":6.3,"lo":5.9,"hi":6.7},{"x":240,"y":13.6,"lo":12.9,"hi":14.3},{"x":240,"y":8.2,"lo":7.9,"hi":8.5},{"x":260,"y":21.7,"lo":20.7,"hi":22.7},{"x":260,"y":13.3,"lo":12.8,"hi":13.8}]},
  "layer": [
  {"mark": {"type": "rule", "color": "#000", "strokeWidth": 1},
   "encoding": {"x": {"field": "x", "type": "quantitative", "axis": null}, "y": {"field": "lo", "type": "quantitative", "axis": null}, "y2": {"field": "hi"}}},
  {"mark": {"type": "tick", "orient": "horizontal", "size": 5, "thickness": 1, "color": "#000"},
   "encoding": {"x": {"field": "x", "type": "quantitative", "axis": null}, "y": {"field": "lo", "type": "quantitative", "axis": null}}},
  {"mark": {"type": "tick", "orient": "horizontal", "size": 5, "thickness": 1, "color": "#000"},
   "encoding": {"x": {"field": "x", "type": "quantitative", "axis": null}, "y": {"field": "hi", "type": "quantitative", "axis": null}}},
  {"mark": {"type": "circle", "color": "#000", "size": 45, "opacity": 1},
   "encoding": {
    "x": {"field": "x", "type": "quantitative", "scale": {"domain": [200, 270], "range": [494, 704], "nice": false, "zero": false}, "axis": null},
    "y": {"field": "y", "type": "quantitative", "scale": {"domain": [0, 25], "range": [700, 577], "nice": false, "zero": false}, "axis": null}}},
  {"data": {"values": [{}]}, "mark": {"type": "text", "fontSize": 11, "fontWeight": "bold", "color": "#000"},
   "encoding": {"x": {"datum": 191, "axis": null}, "y": {"datum": 28.9, "axis": null}, "text": {"value": "n"}}}
 ]},
 {"data": {"values": [{}]}, "mark": {"type": "point", "opacity": 0},
  "encoding": {
   "x": {"datum": 200, "type": "quantitative", "scale": {"domain": [200, 270], "range": [494, 704], "nice": false, "zero": false}, "axis": {"orient": "bottom", "offset": -308, "values": [200,210,220,230,240,250,260,270], "title": "Temperature (°C)", "labelFontSize": 8, "titleFontSize": 9.5, "domainWidth": 1.2}},
   "y": {"datum": 0, "type": "quantitative", "scale": {"domain": [0, 25], "range": [700, 577], "nice": false, "zero": false}, "axis": {"orient": "left", "offset": -494, "values": [0,5,10,15,20,25], "title": "Dose (Gy)", "labelFontSize": 8, "titleFontSize": 9.5, "domainWidth": 1.2}}}},
 {"layer": [
  {"data": {"values": [{"x":225,"y":6.02},{"x":250,"y":5.3},{"x":270,"y":2.3},{"x":270,"y":2.2},{"x":270,"y":2.08},{"x":290,"y":4.95},{"x":290,"y":3.92}]},
   "mark": {"type": "circle", "color": "#000", "size": 28, "opacity": 1},
   "encoding": {
    "x": {"field": "x", "type": "quantitative", "scale": {"domain": [220, 300], "range": [28.3, 227.7], "nice": false, "zero": false}, "axis": null},
    "y": {"field": "y", "type": "quantitative", "scale": {"domain": [0, 7], "range": [858.3, 744.2], "nice": false, "zero": false}, "axis": null}}},
  {"data": {"values": [{}]}, "mark": {"type": "text", "fontSize": 11, "fontWeight": "bold", "color": "#000"},
   "encoding": {"x": {"datum": 210.9, "axis": null}, "y": {"datum": 7.6, "axis": null}, "text": {"value": "l"}}}
 ]},
 {"data": {"values": [{}]}, "mark": {"type": "point", "opacity": 0},
  "encoding": {
   "x": {"datum": 220, "type": "quantitative", "scale": {"domain": [220, 300], "range": [28.3, 227.7], "nice": false, "zero": false}, "axis": {"orient": "bottom", "offset": -149.7, "values": [220,230,240,250,260,270,280,290,300], "labelExpr": "datum.value % 20 == 0 ? datum.label : ''", "title": "Temperature (°C)", "labelFontSize": 8, "titleFontSize": 9.5, "domainWidth": 1.2}},
   "y": {"datum": 0, "type": "quantitative", "scale": {"domain": [0, 7], "range": [858.3, 744.2], "nice": false, "zero": false}, "axis": {"orient": "left", "offset": -28.3, "values": [0,1,2,3,4,5,6,7], "title": "g value (%)", "labelFontSize": 8, "titleFontSize": 9.5, "domainWidth": 1.2}}}},
 {"data": {"values": [{"x":0.2,"y":1.24,"lo":1.21,"hi":1.27},{"x":0.2,"y":1.222,"lo":1.2,"hi":1.245},{"x":1.05,"y":1.172,"lo":1.148,"hi":1.196},{"x":5.2,"y":1.137,"lo":1.113,"hi":1.161},{"x":155,"y":1.01,"lo":0.987,"hi":1.033}]},
  "layer": [
  {"data": {"values": [{}]}, "mark": {"type": "rule", "color": "#000", "strokeWidth": 1.2},
   "encoding": {"x": {"datum": 0.2, "axis": null}, "y": {"datum": 1.225, "axis": null}, "x2": {"datum": 220}, "y2": {"datum": 1.005}}},
  {"mark": {"type": "rule", "color": "#555", "strokeWidth": 1},
   "encoding": {"x": {"field": "x", "type": "quantitative", "axis": null}, "y": {"field": "lo", "type": "quantitative", "axis": null}, "y2": {"field": "hi"}}},
  {"mark": {"type": "tick", "orient": "horizontal", "size": 5, "thickness": 1, "color": "#555"},
   "encoding": {"x": {"field": "x", "type": "quantitative", "axis": null}, "y": {"field": "lo", "type": "quantitative", "axis": null}}},
  {"mark": {"type": "tick", "orient": "horizontal", "size": 5, "thickness": 1, "color": "#555"},
   "encoding": {"x": {"field": "x", "type": "quantitative", "axis": null}, "y": {"field": "hi", "type": "quantitative", "axis": null}}},
  {"mark": {"type": "point", "shape": "square", "filled": true, "color": "#000", "size": 25, "opacity": 1},
   "encoding": {
    "x": {"field": "x", "type": "quantitative", "scale": {"type": "log", "domain": [0.1, 1000], "range": [258, 459.7], "nice": false, "zero": false}, "axis": null},
    "y": {"field": "y", "type": "quantitative", "scale": {"domain": [0.8, 1.4], "range": [849, 744], "nice": false, "zero": false}, "axis": null}}},
  {"data": {"values": [{}]}, "mark": {"type": "text", "fontSize": 8},
   "encoding": {"x": {"datum": 12.4, "axis": null}, "y": {"datum": 1.314, "axis": null}, "text": {"value": "g = 6.58 ± 2.04"}}},
  {"data": {"values": [{}]}, "mark": {"type": "text", "fontSize": 10, "align": "left"},
   "encoding": {"x": {"datum": 0.1147, "axis": null}, "y": {"datum": 0.84, "axis": null}, "text": {"value": "IR"}}},
  {"data": {"values": [{}]}, "mark": {"type": "text", "fontSize": 7.5, "align": "left"},
   "encoding": {"x": {"datum": 0.1896, "axis": null}, "y": {"datum": 0.817, "axis": null}, "text": {"value": "50"}}},
  {"data": {"values": [{}]}, "mark": {"type": "text", "fontSize": 11, "fontWeight": "bold", "color": "#000"},
   "encoding": {"x": {"datum": 0.0489, "axis": null}, "y": {"datum": 1.441, "axis": null}, "text": {"value": "m"}}}
 ]},
 {"data": {"values": [{}]}, "mark": {"type": "point", "opacity": 0},
  "encoding": {
   "x": {"datum": 1, "type": "quantitative", "scale": {"type": "log", "domain": [0.1, 1000], "range": [258, 459.7], "nice": false, "zero": false}, "axis": {"orient": "bottom", "offset": -159, "values": [0.1,1,10,100,1000], "labelExpr": "datum.value < 0.5 ? '0.1' : format(datum.value, 'd')", "title": null, "labelFontSize": 8, "domainWidth": 1.2}},
   "y": {"datum": 1, "type": "quantitative", "scale": {"domain": [0.8, 1.4], "range": [849, 744], "nice": false, "zero": false}, "axis": {"orient": "left", "offset": -258, "values": [0.8,0.9,1,1.1,1.2,1.3,1.4], "labelExpr": "abs(datum.value-0.8)<0.01 ? '0.8' : abs(datum.value-1)<0.01 ? '1' : abs(datum.value-1.2)<0.01 ? '1.2' : abs(datum.value-1.4)<0.01 ? '1.4' : ''", "title": "g value (%)", "labelFontSize": 8, "titleFontSize": 9.5, "domainWidth": 1.2}}}},
 {"data": {"values": [{"x":0.28,"y":1.215,"lo":1.185,"hi":1.245},{"x":1.08,"y":1.19,"lo":1.165,"hi":1.215},{"x":5.2,"y":1.19,"lo":1.165,"hi":1.215},{"x":155,"y":1.17,"lo":1.145,"hi":1.195}]},
  "layer": [
  {"data": {"values": [{}]}, "mark": {"type": "rule", "color": "#000", "strokeWidth": 1.2},
   "encoding": {"x": {"datum": 0.28, "axis": null}, "y": {"datum": 1.205, "axis": null}, "x2": {"datum": 233}, "y2": {"datum": 1.155}}},
  {"mark": {"type": "rule", "color": "#555", "strokeWidth": 1},
   "encoding": {"x": {"field": "x", "type": "quantitative", "axis": null}, "y": {"field": "lo", "type": "quantitative", "axis": null}, "y2": {"field": "hi"}}},
  {"mark": {"type": "tick", "orient": "horizontal", "size": 5, "thickness": 1, "color": "#555"},
   "encoding": {"x": {"field": "x", "type": "quantitative", "axis": null}, "y": {"field": "lo", "type": "quantitative", "axis": null}}},
  {"mark": {"type": "tick", "orient": "horizontal", "size": 5, "thickness": 1, "color": "#555"},
   "encoding": {"x": {"field": "x", "type": "quantitative", "axis": null}, "y": {"field": "hi", "type": "quantitative", "axis": null}}},
  {"mark": {"type": "point", "shape": "square", "filled": true, "color": "#000", "size": 25, "opacity": 1},
   "encoding": {
    "x": {"field": "x", "type": "quantitative", "scale": {"type": "log", "domain": [0.1, 1000], "range": [257.3, 459], "nice": false, "zero": false}, "axis": null},
    "y": {"field": "y", "type": "quantitative", "scale": {"domain": [0.8, 1.4], "range": [982.7, 870], "nice": false, "zero": false}, "axis": null}}},
  {"data": {"values": [{}]}, "mark": {"type": "text", "fontSize": 8},
   "encoding": {"x": {"datum": 16.4, "axis": null}, "y": {"datum": 1.316, "axis": null}, "text": {"value": "g = 1.79 ± 0.19"}}},
  {"data": {"values": [{}]}, "mark": {"type": "text", "fontSize": 10, "align": "left"},
   "encoding": {"x": {"datum": 0.117, "axis": null}, "y": {"datum": 0.825, "axis": null}, "text": {"value": "pIR-IRSL"}}},
  {"data": {"values": [{}]}, "mark": {"type": "text", "fontSize": 7.5, "align": "left"},
   "encoding": {"x": {"datum": 0.72, "axis": null}, "y": {"datum": 0.803, "axis": null}, "text": {"value": "270"}}}
 ]},
 {"data": {"values": [{}]}, "mark": {"type": "point", "opacity": 0},
  "encoding": {
   "x": {"datum": 1, "type": "quantitative", "scale": {"type": "log", "domain": [0.1, 1000], "range": [257.3, 459], "nice": false, "zero": false}, "axis": {"orient": "bottom", "offset": -25.3, "values": [0.1,1,10,100,1000], "labelExpr": "datum.value < 0.5 ? '0.1' : format(datum.value, 'd')", "title": "Time (log)", "labelFontSize": 8, "titleFontSize": 9.5, "domainWidth": 1.2}},
   "y": {"datum": 1, "type": "quantitative", "scale": {"domain": [0.8, 1.4], "range": [982.7, 870], "nice": false, "zero": false}, "axis": {"orient": "left", "offset": -257.3, "values": [0.8,0.9,1,1.1,1.2,1.3,1.4], "labelExpr": "abs(datum.value-0.8)<0.01 ? '0.8' : abs(datum.value-1)<0.01 ? '1' : abs(datum.value-1.2)<0.01 ? '1.2' : abs(datum.value-1.4)<0.01 ? '1.4' : ''", "title": "g value (%)", "labelFontSize": 8, "titleFontSize": 9.5, "domainWidth": 1.2}}}},
 {"data": {"values": [{"x":1,"y":101,"lo":91,"hi":111},{"x":2,"y":102,"lo":91,"hi":113},{"x":3,"y":97,"lo":91,"hi":103},{"x":4,"y":98,"lo":89,"hi":107},{"x":5,"y":99,"lo":90,"hi":108},{"x":6,"y":95,"lo":89,"hi":101},{"x":7,"y":103,"lo":93,"hi":113},{"x":8,"y":97,"lo":90,"hi":104},{"x":9,"y":104,"lo":98,"hi":110},{"x":10,"y":99,"lo":90,"hi":108}]},
  "layer": [
  {"data": {"values": [{}]}, "mark": {"type": "rule", "strokeDash": [4,3], "strokeWidth": 1.5, "color": "#000"},
   "encoding": {"x": {"datum": 0, "axis": null}, "x2": {"datum": 10.43}, "y": {"datum": 100, "axis": null}}},
  {"mark": {"type": "rule", "color": "#000", "strokeWidth": 1},
   "encoding": {"x": {"field": "x", "type": "quantitative", "axis": null}, "y": {"field": "lo", "type": "quantitative", "axis": null}, "y2": {"field": "hi"}}},
  {"mark": {"type": "tick", "orient": "horizontal", "size": 7, "thickness": 1, "color": "#000"},
   "encoding": {"x": {"field": "x", "type": "quantitative", "axis": null}, "y": {"field": "lo", "type": "quantitative", "axis": null}}},
  {"mark": {"type": "tick", "orient": "horizontal", "size": 7, "thickness": 1, "color": "#000"},
   "encoding": {"x": {"field": "x", "type": "quantitative", "axis": null}, "y": {"field": "hi", "type": "quantitative", "axis": null}}},
  {"mark": {"type": "circle", "color": "#000", "size": 50, "opacity": 1},
   "encoding": {
    "x": {"field": "x", "type": "quantitative", "scale": {"domain": [0, 10.43], "range": [493.7, 716.3], "nice": false, "zero": false}, "axis": null},
    "y": {"field": "y", "type": "quantitative", "scale": {"domain": [0, 120], "range": [859, 724], "nice": false, "zero": false}, "axis": null}}},
  {"data": {"values": [{}]}, "mark": {"type": "text", "fontSize": 11, "fontWeight": "bold", "color": "#000"},
   "encoding": {"x": {"datum": -1.24, "axis": null}, "y": {"datum": 110.7, "axis": null}, "text": {"value": "o"}}}
 ]},
 {"data": {"values": [{}]}, "mark": {"type": "point", "opacity": 0},
  "encoding": {
   "x": {"datum": 0, "type": "quantitative", "scale": {"domain": [0, 10.43], "range": [493.7, 716.3], "nice": false, "zero": false}, "axis": {"orient": "bottom", "offset": -149, "values": [0,2,4,6,8,10], "title": "No. of aliquots", "labelFontSize": 8, "titleFontSize": 9.5, "domainWidth": 1.2}},
   "y": {"datum": 0, "type": "quantitative", "scale": {"domain": [0, 120], "range": [859, 724], "nice": false, "zero": false}, "axis": {"orient": "left", "offset": -493.7, "values": [0,20,40,60,80,100,120], "title": "Surrogate Dose (Gy)", "labelFontSize": 8, "titleFontSize": 9.5, "domainWidth": 1.2}}}}
]
}
